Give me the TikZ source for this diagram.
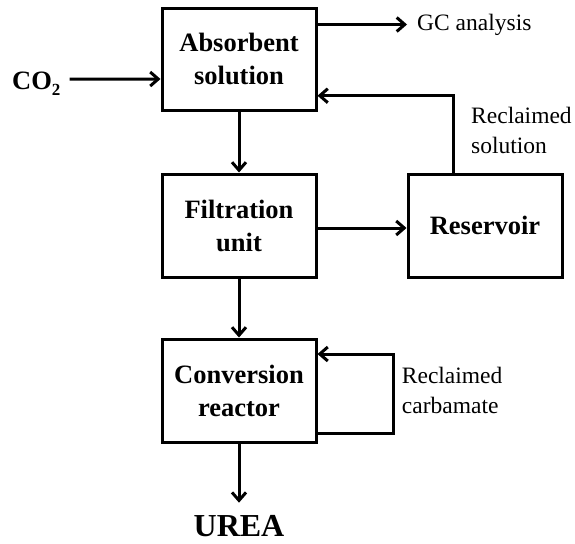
\documentclass[tikz,border=0pt]{standalone}
\usepackage{fontspec}
\setmainfont{Liberation Serif}
\usetikzlibrary{arrows.meta}

\begin{document}
\begin{tikzpicture}[x=1pt, y=-1pt,
  unitbox/.style={draw, line width=3pt, minimum width=154pt, minimum height=103pt,
    inner sep=0pt, align=center, font=\fontsize{26.5}{33}\selectfont\bfseries},
  flow/.style={line width=3pt, -{Straight Barb[length=8pt, width=14pt]}},
  note/.style={inner sep=0pt, align=left, font=\fontsize{23.5}{30}\selectfont}
]
\useasboundingbox (0,0) rectangle (575,543);

% process units
\node[unitbox, minimum height=101.5pt] (absorb) at (239,59.3) {Absorbent\\solution};
\node[unitbox] (filt) at (239,225.5) {Filtration\\unit};
\node[unitbox] (res)  at (485,225.5) {Reservoir};
\node[unitbox] (conv) at (239,390.5) {Conversion\\reactor};

% stream labels
\node[inner sep=0pt, anchor=base west, font=\fontsize{26.5}{30}\selectfont\bfseries]
  (co2) at (12,89) {CO\raisebox{-6pt}{\fontsize{17}{17}\selectfont 2}};
\node[note, anchor=west, inner xsep=10pt] (gc) at (407,24.5) {GC analysis};
\node[note, anchor=north west] (recsol) at (471,107) {Reclaimed\\solution};
\node[note, anchor=north west] (reccarb) at (401.7,367) {Reclaimed\\carbamate};
\node[inner sep=0pt, anchor=base, font=\fontsize{32}{36}\selectfont\bfseries]
  (urea) at (239,536.5) {UREA};

% streams
\draw[flow] ([xshift=9pt,yshift=4pt]co2.east) -- ([yshift=-19.7pt]absorb.west);
\draw[flow] (absorb.east |- gc.west) -- (gc.west);
\draw[flow] (absorb.south) -- (filt.north);
\draw[flow] ([yshift=-2.5pt]filt.east) -- ([yshift=-2.5pt]res.west);
\draw[flow] ([xshift=-32pt]res.north) |- ([yshift=-36.4pt]absorb.east);
\draw[flow] (filt.south) -- (conv.north);
\draw[flow] ([yshift=-42.5pt]conv.east) -- ++(76,0) |- ([yshift=36.5pt]conv.east);
\draw[flow] (conv.south) -- ([yshift=12.5pt]urea.north);
\end{tikzpicture}
\end{document}
